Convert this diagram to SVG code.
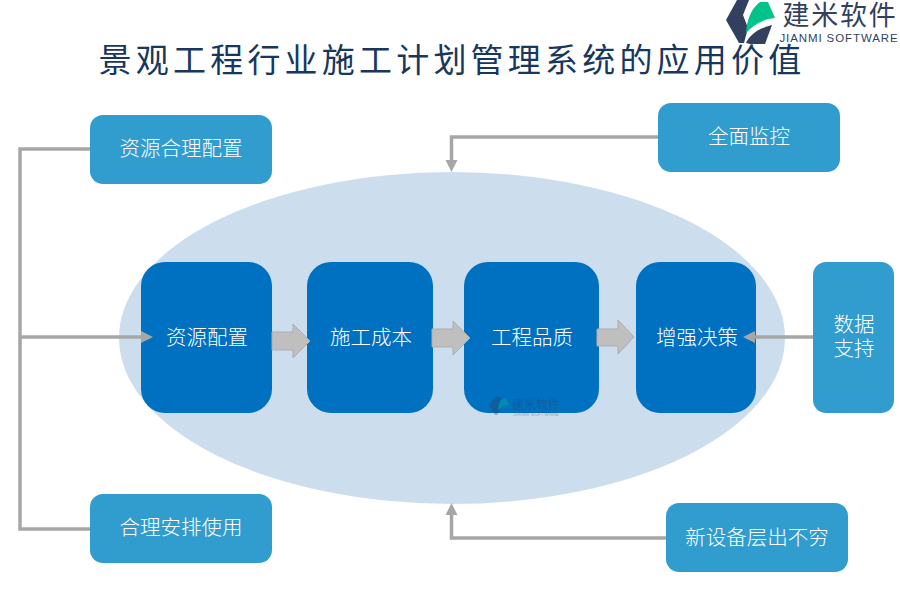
<svg xmlns="http://www.w3.org/2000/svg" width="900" height="600" viewBox="0 0 900 600">
<style>
.s{font-family:"Noto Sans CJK SC",sans-serif;font-size:20.500px;fill:#fff;text-anchor:middle;font-weight:300}
.lt{fill:#319dcf}.dk{fill:#0070c0}
.ln{fill:none;stroke:#a6a6a6;stroke-width:3.5}
.ar{fill:#bfbfbf;stroke:#adadad;stroke-width:1}
.hd{fill:#a6a6a6}
</style>
<rect width="900" height="600" fill="#fff"/>
<text x="452" y="72" text-anchor="middle" font-family="'Noto Sans CJK SC',sans-serif" font-weight="400" font-size="33" letter-spacing="4.200" fill="#17375e">景观工程行业施工计划管理系统的应用价值</text>
<g id="logo">
<path d="M737 0H749L743 15L748 28L744 43H739L726 20Z" fill="#333f5f"/>
<path d="M746 33C747 18 752 8 760 2H768L775 18C763 19 753 25 746 33Z" fill="#00c389"/>
<path d="M746 43C750 34 760 28 772 25L765 44H750Z" fill="#333f5f"/>
<text x="840" y="25" text-anchor="middle" font-family="'Noto Sans CJK SC',sans-serif" font-size="27" letter-spacing="1.800" fill="#333f5f">建米软件</text>
<text x="839" y="42" text-anchor="middle" font-family="'Liberation Sans',sans-serif" font-size="11.500" letter-spacing="0.900" fill="#333f5f">JIANMI SOFTWARE</text>
</g>
<ellipse id="field" cx="452" cy="338" rx="333" ry="166" fill="#ccdeee"/>
<g id="node-ziyuanheli"><rect class="lt" x="90" y="115" width="182" height="69" rx="13"/><text class="s" x="181" y="156">资源合理配置</text></g>
<g id="node-quanmian"><rect class="lt" x="658" y="103" width="182" height="69" rx="13"/><text class="s" x="749" y="144">全面监控</text></g>
<g id="node-heli"><rect class="lt" x="90" y="494" width="182" height="69" rx="13"/><text class="s" x="181" y="535">合理安排使用</text></g>
<g id="node-xinshebei"><rect class="lt" x="666" y="503" width="182" height="69" rx="13"/><text class="s" x="757" y="545">新设备层出不穷</text></g>
<g id="node-shuju"><rect class="lt" x="813" y="262" width="81" height="151" rx="13"/><text class="s"><tspan x="854" y="332">数据</tspan><tspan x="854" y="356">支持</tspan></text></g>
<g id="node-ziyuan"><rect class="dk" x="141" y="262" width="131" height="151" rx="24"/><text class="s" x="207" y="345">资源配置</text></g>
<g id="node-shigong"><rect class="dk" x="307" y="262" width="126" height="151" rx="24"/><text class="s" x="371" y="345">施工成本</text></g>
<g id="node-gongcheng"><rect class="dk" x="464" y="262" width="135" height="151" rx="24"/><text class="s" x="532" y="345">工程品质</text></g>
<g id="node-juece"><rect class="dk" x="636" y="262" width="120" height="151" rx="24"/><text class="s" x="697" y="345">增强决策</text></g>
<g id="connectors">
<path class="ln" d="M90 149H20V529H90"/>
<path class="ln" d="M20 337H142"/>
<path class="hd" d="M153 337L141 331V343Z"/>
<path class="ln" d="M658 137H451.500V162"/>
<path class="hd" d="M451.500 172L445.500 160H457.500Z"/>
<path class="ln" d="M666 538H451.500V514"/>
<path class="hd" d="M451.500 503L445.500 515H457.500Z"/>
<path class="ln" d="M813 337H754"/>
<path class="hd" d="M743 337L755 331V343Z"/>
<path class="ar" d="M272 332H293V324L310 341L293 358V350H272Z"/>
<path class="ar" d="M432 329H453V321L470 338L453 355V347H432Z"/>
<path class="ar" d="M597 329H618V320L634 337L618 354V346H597Z"/>
</g>
<g id="watermark" opacity="0.35">
<path d="M495 397H502L498 404L500 411L497 415H495L489 405Z" fill="#333f5f"/>
<path d="M498 410C499 403 501 399 505 398C507 400 508 402 509 405C504 405 501 407 498 410Z" fill="#00c389"/>
<text x="536" y="409" text-anchor="middle" font-family="'Noto Sans CJK SC',sans-serif" font-size="12" fill="#333f5f">建米软件</text>
<text x="536" y="416" text-anchor="middle" font-family="'Liberation Sans',sans-serif" font-size="5" fill="#333f5f">JIANMI SOFTWARE</text>
</g>
</svg>
